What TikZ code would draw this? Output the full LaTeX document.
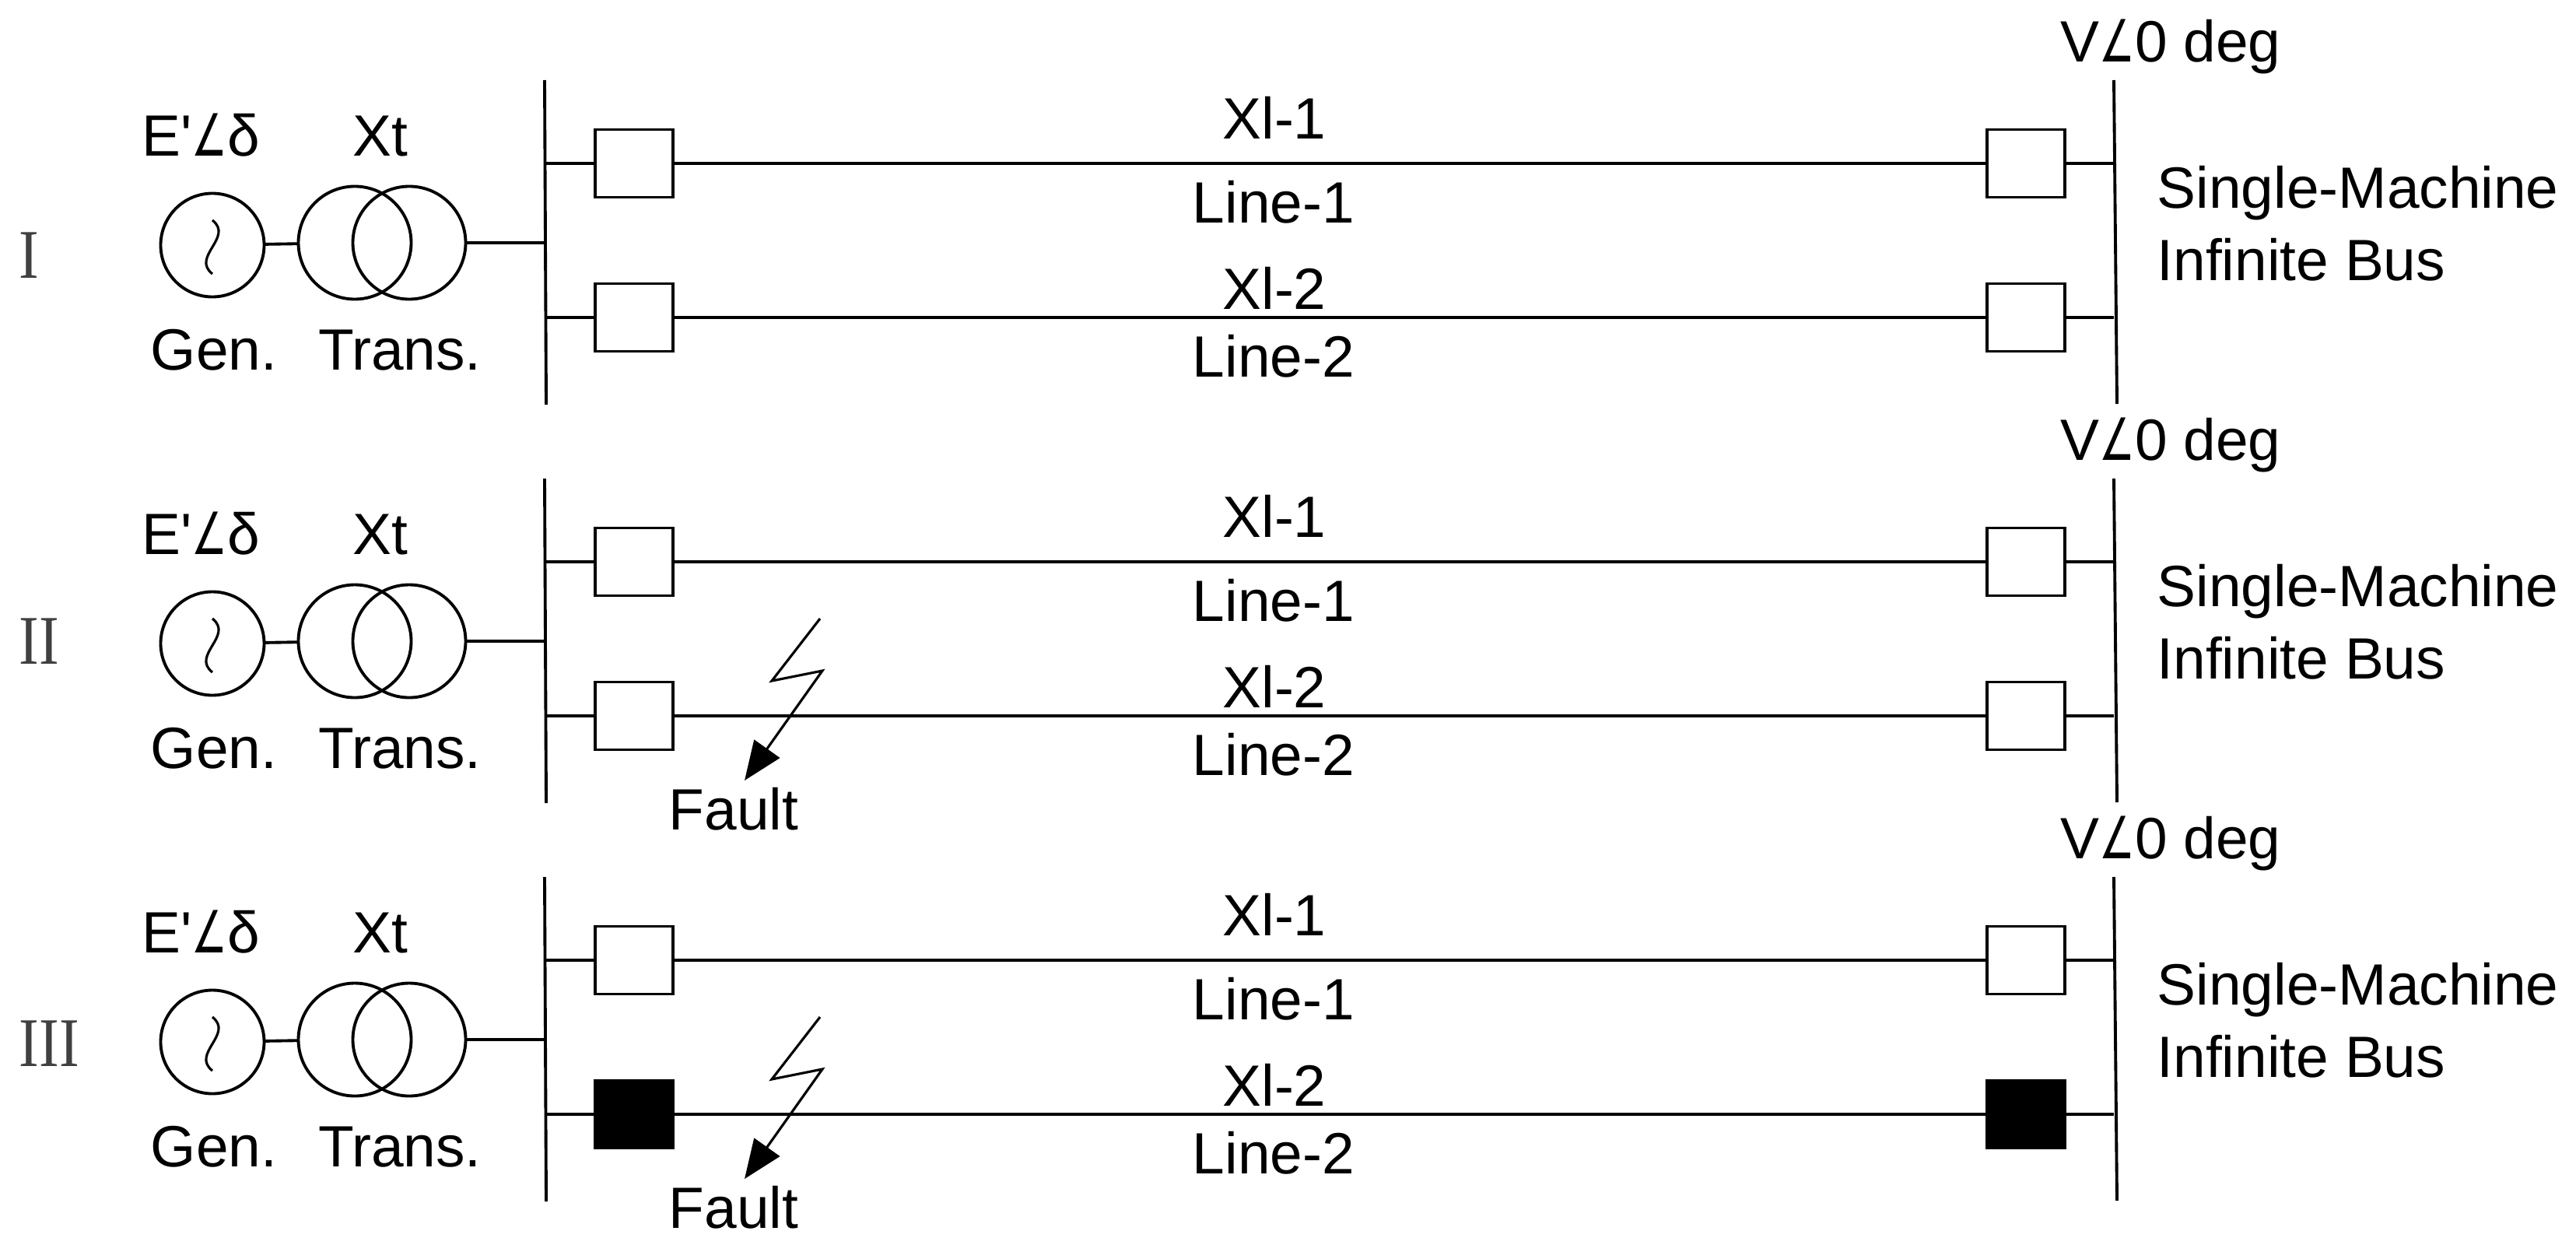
\documentclass[tikz,border=0pt]{standalone}
\usepackage{fontspec}
\setmainfont{Liberation Sans}
\newfontfamily\plainfont{Liberation Sans}
\newfontfamily\romanfont{Liberation Serif}
\newfontfamily\anglefont{DejaVu Sans}
\usetikzlibrary{arrows.meta}
\newcommand{\ang}{\scalebox{.68}[1]{\anglefont\char"2220}}
\newcommand{\prm}{{\plainfont\char"27}}
\tikzset{
	wire/.style={line width=1.1pt},
	lab/.style={anchor=base, inner sep=0pt, font=\fontsize{21.3}{25}\selectfont},
	brk/.style={draw, line width=1.1pt, minimum width=1cm, minimum height=.87cm, inner sep=0pt, outer sep=0pt},
	ring/.style={draw, circle, line width=1.1pt, inner sep=0pt, outer sep=0pt},
}

\begin{document}
\begin{tikzpicture}
	\useasboundingbox (0, 0) rectangle (33.11, -15.99);

	\foreach \r/\dy/\num/\numy/\shade in {1/0/I/-3.57/white, 2/-5.12/II/-3.41/white, 3/-10.24/III/-3.46/black} {
		\begin{scope}[yshift=\dy cm]
			\coordinate (busLtop\r) at (7.0, -1.03);
			\coordinate (busLbot\r) at (7.02, -5.2);
			\coordinate (busRtop\r) at (27.17, -1.03);
			\coordinate (busRbot\r) at (27.21, -5.19);
			\draw[wire] (busLtop\r) -- (busLbot\r);
			\draw[wire] (busRtop\r) -- (busRbot\r);

			\node[ring, minimum size=1.33cm] (gen\r) at (2.73, -3.15) {};
			\node[ring, minimum size=1.45cm] (trA\r) at (4.56, -3.12) {};
			\node[ring, minimum size=1.45cm] (trB\r) at (5.26, -3.12) {};
			\draw[wire] (gen\r) -- (trA\r);
			\draw[wire] (trB\r.east) -- (trB\r.east -| busLtop\r);
			\draw[line width=.9pt] (2.73, -2.83) .. controls (3.01, -3.05) and (2.45, -3.3) .. (2.73, -3.52);

			% upper line
			\node[brk] (brkA\r) at (8.15, -2.1) {};
			\node[brk] (brkB\r) at (26.04, -2.1) {};
			\draw[wire] (brkA\r.west -| busLtop\r) -- (brkA\r) -- (brkB\r) -- (brkB\r.east -| busRtop\r);

			% lower line
			\node[brk, fill=\shade] (brkC\r) at (8.15, -4.08) {};
			\node[brk, fill=\shade] (brkD\r) at (26.04, -4.08) {};
			\draw[wire] (brkC\r.west -| busLtop\r) -- (brkC\r) -- (brkD\r) -- (brkD\r.east -| busRtop\r);

			\node[lab] (emf\r) at (2.58, -2.0) {E\prm\ang δ};
			\node[lab] (xt\r) at (4.89, -2.0) {Xt};
			\node[lab] (genlab\r) at (2.75, -4.75) {Gen.};
			\node[lab] (translab\r) at (5.14, -4.75) {Trans.};
			\node[lab] (xa\r) at (16.38, -1.78) {Xl-1};
			\node[lab] (linea\r) at (16.37, -2.86) {Line-1};
			\node[lab] (xb\r) at (16.38, -3.97) {Xl-2};
			\node[lab] (lineb\r) at (16.37, -4.84) {Line-2};
			\node[lab] (volt\r) at (27.9, -.79) {V\ang 0 deg};
			\node[lab, anchor=base west] (smib\r) at (27.72, -2.67) {Single-Machine};
			\node[lab, anchor=base west] (inf\r) at (27.72, -3.6) {Infinite Bus};
			\node[lab, anchor=base west, text=black!75, font=\romanfont\fontsize{25.5}{30}\selectfont] (num\r) at (.24, \numy) {\scalebox{.86}[1]{\num}};
		\end{scope}
	}

	% fault marks
	\foreach \r/\dy in {2/0, 3/-5.12} {
		\begin{scope}[yshift=\dy cm]
			\coordinate (boltA\r) at (10.54, -7.95);
			\coordinate (boltB\r) at (9.92, -8.75);
			\coordinate (boltC\r) at (10.57, -8.62);
			\coordinate (boltD\r) at (9.57, -10.03);
			\draw[line width=.9pt, -{Triangle[length=.5cm, width=.4cm]}] (boltA\r) -- (boltB\r) -- (boltC\r) -- (boltD\r);
			\node[lab] (fault\r) at (9.43, -10.66) {Fault};
		\end{scope}
	}
\end{tikzpicture}
\end{document}
